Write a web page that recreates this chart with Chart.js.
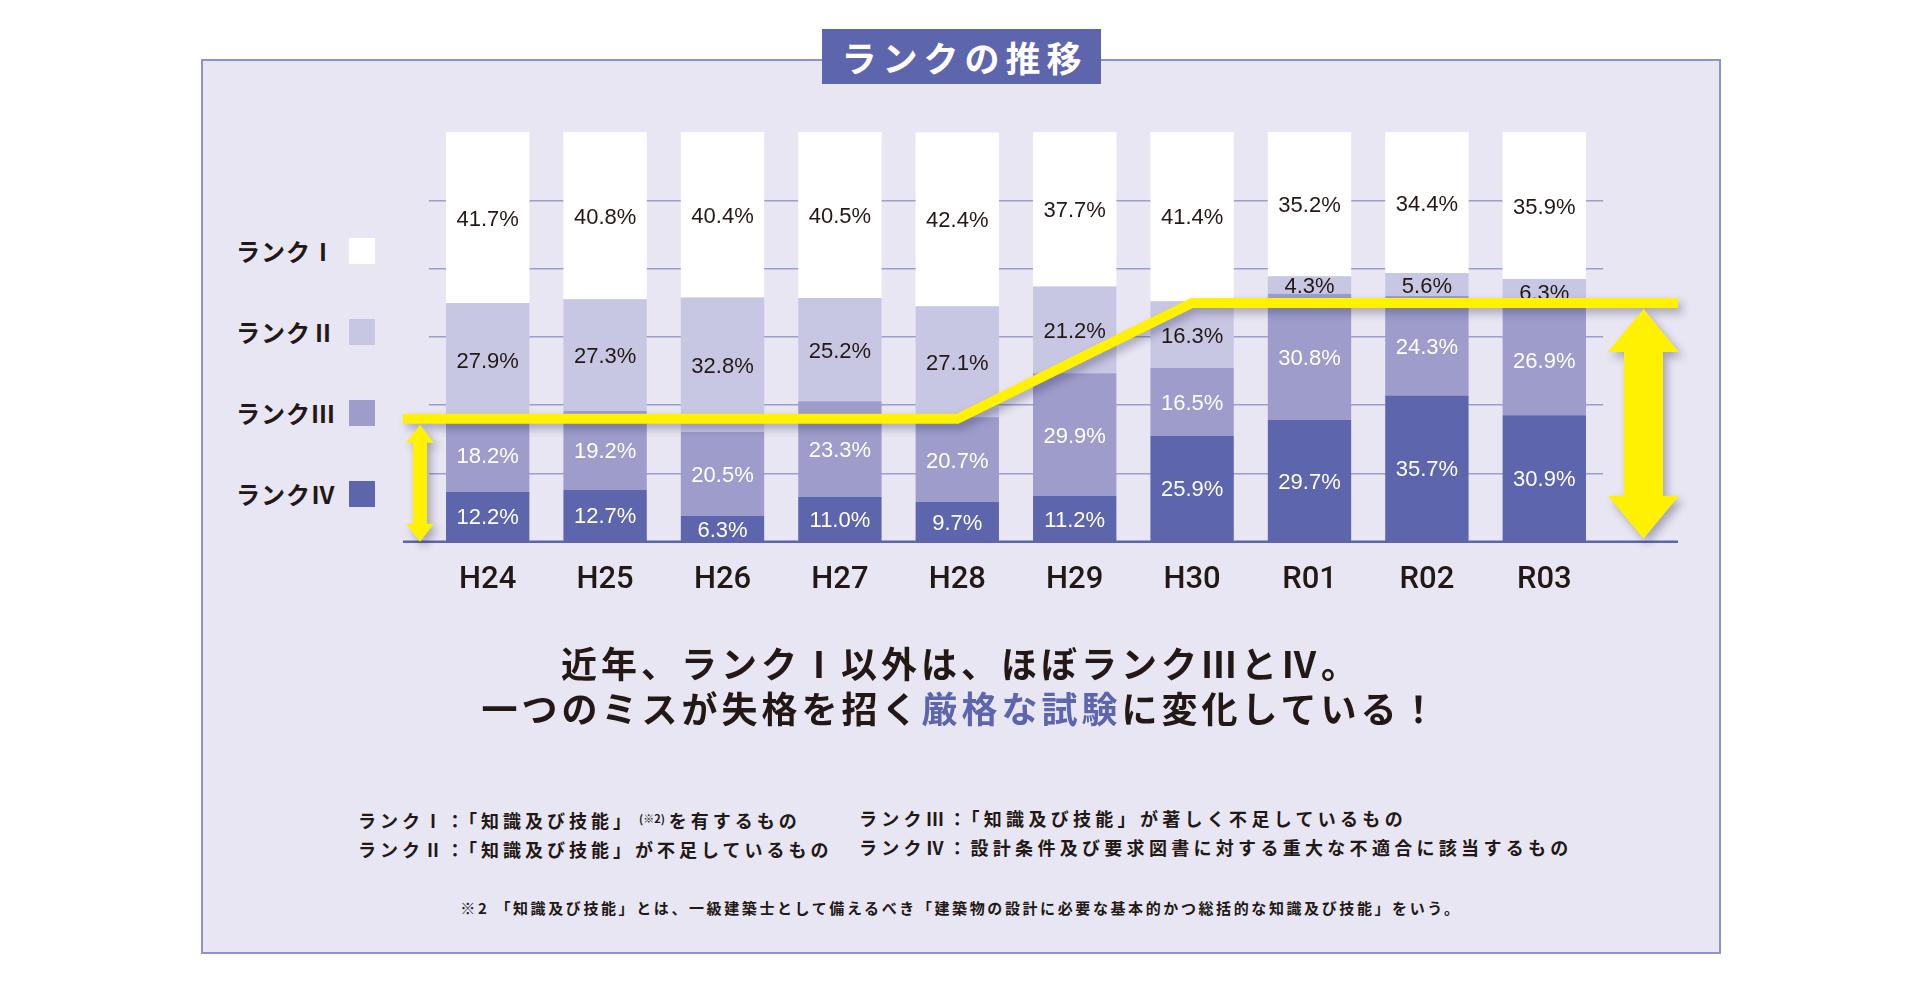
<!DOCTYPE html>
<html lang="ja">
<head>
<meta charset="utf-8">
<title>ランクの推移</title>
<script src="https://cdn.jsdelivr.net/npm/chart.js@4.4.1/dist/chart.umd.min.js"></script>
<style>
  html, body { margin: 0; padding: 0; background: #fff; }
  body {
    width: 1922px; height: 998px; position: relative; overflow: hidden;
    font-family: "Noto Sans CJK JP", sans-serif; color: #231815;
  }
  .panel {
    position: absolute; left: 201px; top: 59px; width: 1516px; height: 891px;
    background: #e8e6f2; border: 2px solid #8e92c8;
  }
  .title {
    position: absolute; left: 822px; top: 29px; width: 279px; height: 55px;
    background: #5d65ad; color: #fff; font-weight: 700; font-size: 35px;
    letter-spacing: 6px; text-align: center; line-height: 55px; text-indent: 6px;
  }
  .legend { position: absolute; left: 236px; top: 0; }
  .legend .item {
    position: absolute; left: 0; width: 140px; height: 26px;
    font-weight: 700; font-size: 24px; line-height: 26px; white-space: nowrap; letter-spacing: 1px;
  }
  .legend .sw { position: absolute; left: 113px; top: 0; width: 26px; height: 26px; }
  #chartBox { position: absolute; left: 0; top: 0; width: 1922px; height: 640px; }
  .message {
    position: absolute; left: 201px; width: 1520px; top: 640px; text-align: center;
    font-weight: 700; font-size: 36px; line-height: 45px; letter-spacing: 4px;
  }
  .message .em { color: #5d65ad; }
  .defs { position: absolute; top: 804px; font-weight: 700; font-size: 18px; letter-spacing: 4px; line-height: 29px; white-space: nowrap; }
  .defs sup { font-size: 11px; letter-spacing: 0; vertical-align: 5px; margin: 0 4px; }
  .note {
    position: absolute; left: 201px; width: 1520px; top: 897px; text-align: center;
    font-weight: 700; font-size: 15px; letter-spacing: 2.6px; white-space: nowrap;
  }
</style>
</head>
<body>
<div class="panel"></div>
<div class="title">ランクの推移</div>

<div class="legend" id="legend"></div>

<div id="chartBox"><canvas id="rankChart" width="1922" height="640"></canvas></div>

<div class="message">
  近年、ランクⅠ以外は、ほぼランクⅢとⅣ。<br>
  一つのミスが失格を招く<span class="em">厳格な試験</span>に変化している！
</div>

<div class="defs" style="left:358px;">
  ランクⅠ：「知識及び技能」<sup>(※2)</sup>を有するもの<br>
  ランクⅡ：「知識及び技能」が不足しているもの
</div>
<div class="defs" style="left:859px; letter-spacing:4.3px;">
  ランクⅢ：「知識及び技能」が著しく不足しているもの<br>
  ランクⅣ：設計条件及び要求図書に対する重大な不適合に該当するもの
</div>
<div class="note">※2 「知識及び技能」とは、一級建築士として備えるべき「建築物の設計に必要な基本的かつ総括的な知識及び技能」をいう。</div>

<script>
// Data (percent of candidates per rank)
const years = ['H24', 'H25', 'H26', 'H27', 'H28', 'H29', 'H30', 'R01', 'R02', 'R03'];
const rankNames = ['ランクⅠ', 'ランクⅡ', 'ランクⅢ', 'ランクⅣ'];
const rank1 = [41.7, 40.8, 40.4, 40.5, 42.4, 37.7, 41.4, 35.2, 34.4, 35.9];
const rank2 = [27.9, 27.3, 32.8, 25.2, 27.1, 21.2, 16.3, 4.3, 5.6, 6.3];
const rank3 = [18.2, 19.2, 20.5, 23.3, 20.7, 29.9, 16.5, 30.8, 24.3, 26.9];
const rank4 = [12.2, 12.7, 6.3, 11.0, 9.7, 11.2, 25.9, 29.7, 35.7, 30.9];
// yellow guide: share of rank III+IV before / after
const guideLevels = [30.0, 58.3];

const colors = ['#ffffff', '#c8c7e3', '#9d9ccb', '#5d65ad'];
const labelColors = ['#231815', '#231815', '#ffffff', '#ffffff'];
const yellow = '#fff100';

// legend (Rank I on top)
const legendEl = document.getElementById('legend');
rankNames.forEach((name, i) => {
    const item = document.createElement('div');
    item.className = 'item';
    item.style.top = (238 + i * 81) + 'px';
    item.innerHTML = name + '<span class="sw" style="background:' + colors[i] + '"></span>';
    legendEl.appendChild(item);
});

// segment value labels
const segmentLabels = {
    id: 'segmentLabels',
    afterDatasetsDraw(chart) {
        const ctx = chart.ctx;
        ctx.save();
        ctx.font = '22px "Liberation Sans", Arial, sans-serif';
        ctx.textAlign = 'center';
        ctx.textBaseline = 'middle';
        chart.data.datasets.forEach((ds, di) => {
            const meta = chart.getDatasetMeta(di);
            meta.data.forEach((bar, i) => {
                const p = bar.getProps(['x', 'y', 'base'], true);
                ctx.fillStyle = ds.labelColor;
                ctx.fillText(ds.data[i].toFixed(1) + '%', p.x, (p.y + p.base) / 2 + 2);
            });
        });
        ctx.restore();
    }
};

function drawArrow(ctx, x, top, bottom, headLen, headW, shaftW) {
    ctx.beginPath();
    ctx.moveTo(x, top);
    ctx.lineTo(x + headW / 2, top + headLen);
    ctx.lineTo(x + shaftW / 2, top + headLen);
    ctx.lineTo(x + shaftW / 2, bottom - headLen);
    ctx.lineTo(x + headW / 2, bottom - headLen);
    ctx.lineTo(x, bottom);
    ctx.lineTo(x - headW / 2, bottom - headLen);
    ctx.lineTo(x - shaftW / 2, bottom - headLen);
    ctx.lineTo(x - shaftW / 2, top + headLen);
    ctx.lineTo(x - headW / 2, top + headLen);
    ctx.closePath();
    ctx.fill();
}

// baseline, yellow step line and arrows
const guides = {
    id: 'guides',
    afterDraw(chart) {
        const ctx = chart.ctx;
        const xs = chart.scales.x, ys = chart.scales.y;
        const area = chart.chartArea;
        const y0 = ys.getPixelForValue(0);
        const yLow = ys.getPixelForValue(guideLevels[0]);
        const yHigh = ys.getPixelForValue(guideLevels[1]);
        const left = area.left - 26, right = area.right + 75;

        ctx.save();
        ctx.strokeStyle = '#5d65ad';
        ctx.lineWidth = 2.5;
        ctx.beginPath();
        ctx.moveTo(left, y0);
        ctx.lineTo(right, y0);
        ctx.stroke();

        ctx.shadowColor = 'rgba(40, 40, 80, 0.35)';
        ctx.shadowBlur = 8;
        ctx.shadowOffsetX = 4;
        ctx.shadowOffsetY = 5;

        ctx.strokeStyle = yellow;
        ctx.lineWidth = 10;
        ctx.lineJoin = 'miter';
        ctx.beginPath();
        ctx.moveTo(left, yLow);
        ctx.lineTo(xs.getPixelForValue(4), yLow);
        ctx.lineTo(xs.getPixelForValue(6), yHigh);
        ctx.lineTo(right, yHigh);
        ctx.stroke();

        ctx.fillStyle = yellow;
        drawArrow(ctx, area.left - 9, yLow + 6, y0, 18, 28, 14);
        drawArrow(ctx, area.right + 40.5, yHigh + 6, y0 - 3, 43, 71, 39);
        ctx.restore();
    }
};

const ctx = document.getElementById('rankChart').getContext('2d');
const rankChart = new Chart(ctx, {
    type: 'bar',
    data: {
        labels: years,
        datasets: [
            { label: rankNames[3], data: rank4, backgroundColor: colors[3], labelColor: labelColors[3] },
            { label: rankNames[2], data: rank3, backgroundColor: colors[2], labelColor: labelColors[2] },
            { label: rankNames[1], data: rank2, backgroundColor: colors[1], labelColor: labelColors[1] },
            { label: rankNames[0], data: rank1, backgroundColor: colors[0], labelColor: labelColors[0] }
        ]
    },
    options: {
        responsive: false,
        animation: false,
        layout: {
            padding: { left: 429, right: 319, top: 132, bottom: 29 }
        },
        datasets: {
            bar: { categoryPercentage: 1, barPercentage: 0.71, borderWidth: 0 }
        },
        scales: {
            x: {
                stacked: true,
                grid: { display: false },
                border: { display: false },
                ticks: {
                    color: '#231815',
                    padding: 12,
                    font: { family: 'Roboto, "Liberation Sans", sans-serif', size: 31, weight: '500' }
                }
            },
            y: {
                stacked: true,
                min: 0,
                max: 100,
                border: { display: false },
                ticks: { display: false, stepSize: 100 / 6 },
                grid: {
                    drawTicks: false,
                    lineWidth: 1.5,
                    color: c => (c.tick && (c.tick.value <= 0 || c.tick.value >= 99.9)) ? 'rgba(0,0,0,0)' : '#9a9ed0'
                }
            }
        },
        plugins: {
            legend: { display: false },
            tooltip: { enabled: false }
        }
    },
    plugins: [segmentLabels, guides]
});
</script>
</body>
</html>
